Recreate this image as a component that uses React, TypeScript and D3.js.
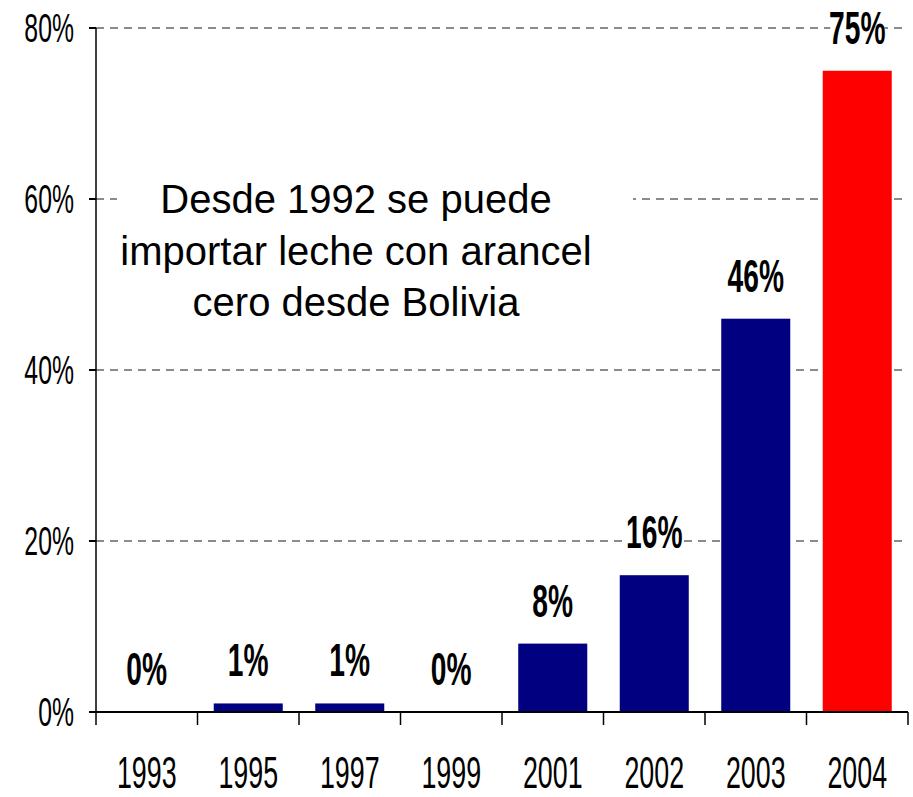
import * as d3 from "d3";

const years = ["1993", "1995", "1997", "1999", "2001", "2002", "2003", "2004"];
const shares = [0, 1, 1, 0, 8, 16, 46, 75];
const yTicks = [0, 20, 40, 60, 80];
const note = ["Desde 1992 se puede", "importar leche con arancel", "cero desde Bolivia"];

const width = 913;
const height = 797;
const marginLeft = 96;
const marginRight = 5;
const marginTop = 28;
const marginBottom = 85;

const font = "'Liberation Sans', Arial, sans-serif";

export default function App() {
  const x = d3.scaleBand()
    .domain(years)
    .range([marginLeft, width - marginRight])
    .paddingInner(0.32)
    .paddingOuter(0.16);

  const y = d3.scaleLinear([0, 80], [height - marginBottom, marginTop]);

  const gap = x.step() * x.paddingInner();
  const boundaries = years.map(d => x(d) - gap / 2).concat([width - marginRight]);
  const y0 = y(0);

  return (
    <svg width={width} height={height} style={{position: "absolute", left: 0, top: 0, background: "white"}}>
      {/* grid */}
      <g stroke="#666" strokeWidth="1.3" strokeDasharray="8,6">
        {yTicks.filter(t => t > 0).map(t => (
          <line key={t} x1={marginLeft} x2={width - marginRight} y1={y(t)} y2={y(t)} />
        ))}
      </g>

      {/* annotation box */}
      <rect x={117} y={165} width={516} height={175} fill="white" />
      <g fontFamily={font} fontSize="40" textAnchor="middle" fill="#000">
        {note.map((line, i) => (
          <text key={i} x={356} y={213 + i * 51.5}>{line}</text>
        ))}
      </g>

      {/* bars */}
      <g>
        {shares.map((v, i) => (
          <rect
            key={years[i]}
            x={x(years[i])}
            y={y(v)}
            width={x.bandwidth()}
            height={y0 - y(v)}
            fill={i === shares.length - 1 ? "#FF0000" : "#000080"}
          />
        ))}
      </g>

      {/* value labels */}
      <g fontFamily={font} fontSize="47" fontWeight="bold" textAnchor="middle">
        {shares.map((v, i) => {
          const cx = x(years[i]) + x.bandwidth() / 2;
          const by = y(v) - 28;
          return (
            <g key={years[i]}>
              <rect x={cx - 27} y={by - 38} width={54} height={44} fill="white" />
              <text transform={`translate(${cx},${by + 1}) scale(0.6,1)`}>{v}%</text>
            </g>
          );
        })}
      </g>

      {/* y axis */}
      <g stroke="#000">
        <line x1={marginLeft} x2={marginLeft} y1={marginTop} y2={y0} strokeWidth="1.5" />
        {yTicks.map(t => (
          <line key={t} x1={marginLeft - 7} x2={marginLeft} y1={y(t)} y2={y(t)} strokeWidth="2" />
        ))}
      </g>
      <g fontFamily={font} fontSize="40" textAnchor="end">
        {yTicks.map(t => (
          <text key={t} transform={`translate(74,${y(t) + 14}) scale(0.62,1)`}>{t}%</text>
        ))}
      </g>

      {/* x axis */}
      <g stroke="#000">
        <line x1={marginLeft} x2={width - marginRight} y1={y0} y2={y0} strokeWidth="2.2" />
        {boundaries.map((b, i) => (
          <line key={i} x1={b} x2={b} y1={y0} y2={y0 + 13} strokeWidth="1.5" />
        ))}
      </g>
      <g fontFamily={font} fontSize="44" textAnchor="middle">
        {years.map(d => (
          <text key={d} transform={`translate(${x(d) + x.bandwidth() / 2},788) scale(0.61,1)`}>{d}</text>
        ))}
      </g>
    </svg>
  );
}
